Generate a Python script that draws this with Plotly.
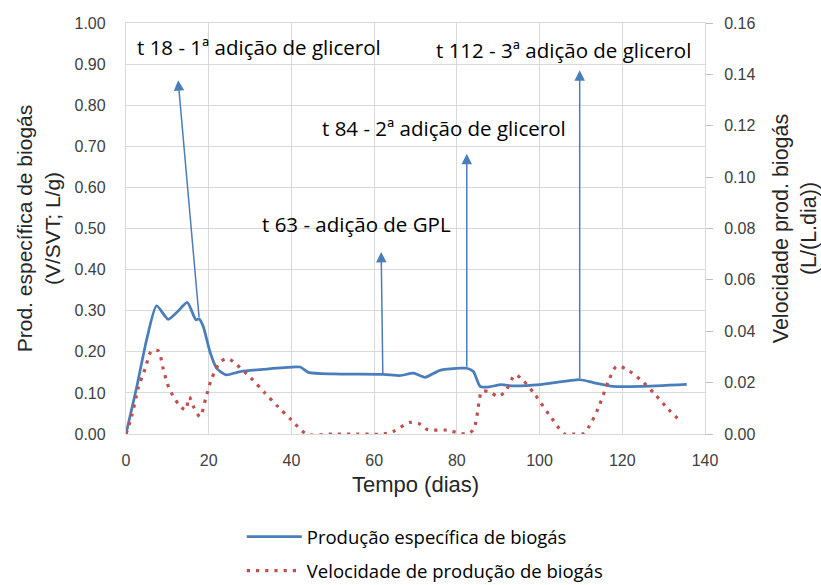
import plotly.graph_objects as go

# ---- data ----
blue_x = [0, 2.5, 5, 7.4, 10.2, 12.5, 14.8, 16.9, 17.7, 18.7, 20.3, 21.9, 24.2, 27.6, 34, 42.1, 44.1,
          50.1, 62.2, 66.2, 69.5, 72.3, 75.9, 80.8, 82.4, 84, 85.6, 87.2, 90.8, 93.6, 100.1,
          109.8, 113, 117.8, 124.3, 135.6]
blue_y = [0, 0.11, 0.23, 0.312, 0.279, 0.298, 0.32, 0.278, 0.28, 0.261, 0.20, 0.16, 0.144, 0.152,
          0.158, 0.163, 0.15, 0.146, 0.145, 0.142, 0.148, 0.138, 0.155, 0.16, 0.16, 0.152, 0.116,
          0.114, 0.120, 0.117, 0.120, 0.132, 0.125, 0.116, 0.116, 0.121]

red_x = [0, 1.4, 3.0, 4.6, 6.2, 7.8, 9.0, 10.4, 12.8, 14.4, 15.3, 16.3, 17.9, 19.3, 20.7, 22.9,
         24.7, 26.8, 30.2, 33.4, 36.7, 39.9, 43.7, 50, 56, 62.3, 64.6, 68.7, 70.9, 72.9, 77.6,
         82.2, 84, 85.4, 86, 88, 90, 91.8, 94.1, 95.9, 98.9, 102.9, 106.1, 108.1, 110.4, 112,
         114.2, 116.8, 118.6, 120.9, 124.7, 128, 131.1, 134.5]
red_y = [0, 0.0071, 0.0181, 0.0253, 0.0324, 0.0324, 0.0253, 0.0179, 0.0114, 0.0094, 0.0144,
         0.0107, 0.0068, 0.014, 0.0215, 0.0282, 0.0293, 0.0269, 0.0218, 0.0163, 0.0107, 0.0056,
         0.0, 0, 0, 0, 0.001, 0.0045, 0.004, 0.0017, 0.0015, 0, 0.0017, 0.0127, 0.0166, 0.0163,
         0.0146, 0.0168, 0.023, 0.0211, 0.0153, 0.0062, 0, 0, 0, 0.003, 0.0101, 0.0211, 0.0263,
         0.0253, 0.0207, 0.0153, 0.0097, 0.0043]

# events
event_labels = ["t 18 - 1ª adição de glicerol", "t 63 - adição de GPL",
                "t 84 - 2ª adição de glicerol", "t 112 - 3ª adição de glicerol"]
label_x = [2.2, 32.4, 46.9, 137.1]
label_y = [0.941, 0.511, 0.744, 0.934]
label_anchor = ["left", "left", "left", "right"]
head_x = [12.6, 61.7, 82.4, 109.7]
head_y = [0.861, 0.443, 0.682, 0.885]
tail_x = [17.7, 62.1, 82.4, 109.7]
tail_y = [0.28, 0.145, 0.16, 0.132]

BLUE = "#4a7ebb"
RED = "#c0504d"
GRID = "#d9d9d9"
TXT = "#404040"
ANN_FONT = "'Open Sans', Lato, sans-serif"
AX_FONT = "Liberation Sans, Arial, sans-serif"

fig = go.Figure()
fig.add_trace(go.Scatter(x=blue_x, y=blue_y, mode="lines", name="Produção específica de biogás",
                         line=dict(color=BLUE, width=2.75, shape="spline", smoothing=0.6),
                         legend="legend"))
fig.add_trace(go.Scatter(x=red_x, y=red_y, mode="lines", name="Velocidade de produção de biogás",
                         line=dict(color=RED, width=3.2, shape="spline", smoothing=0.8,
                                   dash="3.2px,6px"),
                         yaxis="y2", legend="legend2"))

annotations = []
for i in range(len(event_labels)):
    annotations.append(dict(x=head_x[i], y=head_y[i], ax=tail_x[i], ay=tail_y[i],
                            xref="x", yref="y", axref="x", ayref="y", text="",
                            showarrow=True, arrowhead=2, arrowsize=1.4, arrowwidth=1.5,
                            arrowcolor=BLUE))
    annotations.append(dict(x=label_x[i], y=label_y[i], xref="x", yref="y",
                            text=event_labels[i], showarrow=False, xanchor=label_anchor[i],
                            yanchor="middle", font=dict(family=ANN_FONT, size=20.5, color="#000000")))

fig.update_layout(
    width=821, height=585,
    margin=dict(l=126, r=116, t=23, b=151, autoexpand=False),
    paper_bgcolor="white", plot_bgcolor="white",
    font=dict(family=AX_FONT, color=TXT),
    xaxis=dict(range=[0, 140], dtick=20, tickfont=dict(size=16, color=TXT),
               showgrid=True, gridcolor=GRID, gridwidth=1.3, zeroline=False,
               showline=True, linecolor=GRID, linewidth=1.3, mirror=True,
               ticks="", ticklabelstandoff=12,
               title=dict(text="Tempo (dias)", font=dict(size=22, color="#262626"), standoff=8)),
    yaxis=dict(range=[0, 1.0], dtick=0.1, tickformat=".2f", tickfont=dict(size=16, color=TXT),
               showgrid=True, gridcolor=GRID, gridwidth=1.3, zeroline=False,
               showline=True, linecolor=GRID, linewidth=1.3, mirror=True,
               ticks="", ticklabelstandoff=16,
               title=dict(text="Prod. específica de biogás<br>(V/SVT; L/g)",
                          font=dict(size=21, color="#262626"), standoff=8)),
    yaxis2=dict(range=[0, 0.16], dtick=0.02, tickformat=".2f", tickfont=dict(size=16, color=TXT),
                overlaying="y", side="right", showgrid=False, zeroline=False,
                ticks="outside", ticklen=7, tickcolor="#bfbfbf", ticklabelstandoff=8,
                title=dict(text="Velocidade prod. biogás<br>(L/(L.dia))",
                           font=dict(size=21.5, color="#262626"), standoff=24)),
    legend=dict(x=0.2, y=1 - 537 / 585, yref="container", xanchor="left", yanchor="middle",
                itemwidth=55, font=dict(family=ANN_FONT, size=18.5, color="#000000"),
                bgcolor="rgba(0,0,0,0)"),
    legend2=dict(x=0.2, y=1 - 571 / 585, yref="container", xanchor="left", yanchor="middle",
                 itemwidth=55, font=dict(family=ANN_FONT, size=18.5, color="#000000"),
                 bgcolor="rgba(0,0,0,0)"),
    annotations=annotations,
    showlegend=True,
)

fig.write_html("out.html")
